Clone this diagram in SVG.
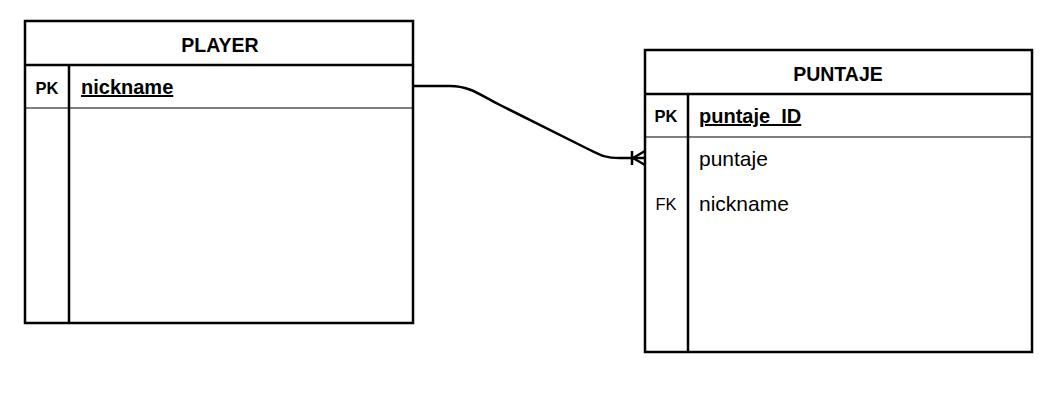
<svg xmlns="http://www.w3.org/2000/svg" width="1056" height="406" viewBox="0 0 1056 406">
<style>
.box{fill:#fff;stroke:#000;stroke-width:2.5}
.ln{stroke:#000;stroke-width:2.5;fill:none}
.thin{stroke:#000;stroke-width:1.2;fill:none}
text{font-family:"Liberation Sans",Arial,sans-serif;fill:#000}
.hd{font-size:19.5px;font-weight:bold}
.k{font-size:16.5px;font-weight:bold}
.kf{font-size:16.5px}
.f{font-size:21px}
.fb{font-size:20px;font-weight:bold;text-decoration:underline}
</style>
<rect width="1056" height="406" fill="#fff"/>
<g id="connectors">
<path class="ln" d="M413,86 H450 C470,86 480,95 500,105 L590,150 C600,155 605,158 620,158 H645"/>
<path class="ln" d="M632,151 V165 M633,158 L645,151 M633,158 L645,165"/>
</g>
<g id="player">
<rect class="box" x="25" y="21" width="388" height="302"/>
<line class="ln" x1="25" y1="65" x2="413" y2="65"/>
<line class="thin" x1="25" y1="108" x2="413" y2="108"/>
<line class="ln" x1="69" y1="65" x2="69" y2="323"/>
<text class="hd" x="220" y="52" text-anchor="middle">PLAYER</text>
<text class="k" x="47" y="94" text-anchor="middle">PK</text>
<text class="fb" x="81" y="94">nickname</text>
</g>
<g id="puntaje">
<rect class="box" x="645" y="50" width="387" height="302"/>
<line class="ln" x1="645" y1="94" x2="1032" y2="94"/>
<line class="thin" x1="645" y1="137" x2="1032" y2="137"/>
<line class="ln" x1="688" y1="94" x2="688" y2="352"/>
<text class="hd" x="838" y="81" text-anchor="middle">PUNTAJE</text>
<text class="k" x="666" y="122" text-anchor="middle">PK</text>
<text class="fb" x="699" y="123">puntaje_ID</text>
<text class="f" x="699" y="166">puntaje</text>
<text class="kf" x="666" y="210" text-anchor="middle">FK</text>
<text class="f" x="699" y="211">nickname</text>
</g>
</svg>
